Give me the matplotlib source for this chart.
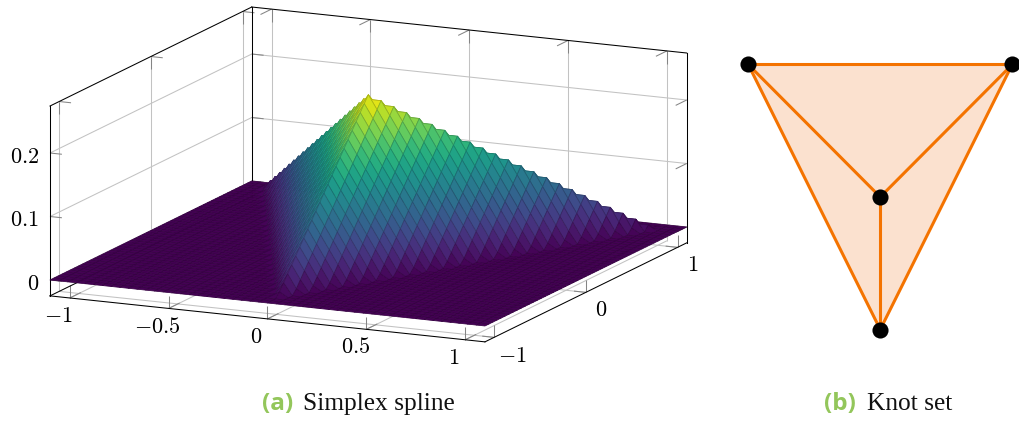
import numpy as np
import matplotlib
matplotlib.use("Agg")
import matplotlib.pyplot as plt
import matplotlib.tri as mtri
from mpl_toolkits.mplot3d import proj3d
from mpl_toolkits.mplot3d.art3d import Poly3DCollection

plt.rcParams['mathtext.fontset'] = 'cm'

# ---- data ----
knot_x = [-1.0, 1.0, 0.0, 0.0]
knot_y = [1.0, 1.0, -1.0, 0.0]
knot_z = [0.0, 0.0, 0.0, 0.25]      # spline height at each knot
knot_triangles = [[0, 3, 1], [0, 2, 3], [3, 2, 1]]
hull = [0, 1, 2, 0]
spokes = [[3, 0], [3, 1], [3, 2]]

x_lim = (-1.1, 1.1)
y_lim = (-1.1, 1.1)
z_lim = (-0.025, 0.274)
n_samples = 51

x_ticks = [-1, -0.5, 0, 0.5, 1]
x_labels = [r'$-1$', r'$-0.5$', r'$0$', r'$0.5$', r'$1$']
y_ticks = [-1, 0, 1]
y_labels = [r'$-1$', r'$0$', r'$1$']
z_ticks = [0, 0.1, 0.2]
z_labels = [r'$0$', r'$0.1$', r'$0.2$']

# ---- figure ----
W, H = 1020, 423
fig = plt.figure(figsize=(W / 100, H / 100), dpi=100)

# square 3D axes (mplot3d forces a square box) covering the figure width
ax = fig.add_axes([0, (H - W) / 2 / H, 1, W / H], projection='3d',
                  computed_zorder=False, proj_type='ortho')
ax.set_xticks([])
ax.set_yticks([])
ax.set_zticks([])
ax.set_axis_off()
ax.patch.set_visible(False)
ax.apply_aspect()

# pgfplots-like orthographic view: screen pixels per data unit
view_x = [197.7, 91.7, 0.0, 368.35]
view_y = [20.9, -45.0, -635.0, 253.5]
A = ax.transData.inverted().get_affine().get_matrix()
px = np.array(view_x)
py = np.array([-view_y[0], -view_y[1], -view_y[2], H - view_y[3]])
u = A[0, 0] * px + A[0, 1] * py
v = A[1, 0] * px + A[1, 1] * py
u[3] += A[0, 2]
v[3] += A[1, 2]
nv = np.cross(px[:3], py[:3])
nv = nv / np.linalg.norm(nv)
depth = nv if nv[1] > 0 else -nv      # +y is further from the viewer
M = np.array([u, v, [depth[0], depth[1], depth[2], -10.0], [0, 0, 0, 1.0]])
ax.get_proj = lambda: M

GRID = '#c2c2c2'
TICK = '#858585'
LW = 0.75


def seg(p, q, color='k', lw=LW, z=1):
    ax.plot([p[0], q[0]], [p[1], q[1]], [p[2], q[2]], color=color, lw=lw, zorder=z,
            solid_capstyle='projecting' if color == 'k' else 'butt')


def label(x, y, z, s, ha):
    a, b, _ = proj3d.proj_transform(x, y, z, M)
    ax.text2D(a, b, s, transform=ax.transData, fontsize=16, ha=ha, va='center', zorder=4)


x0, x1 = x_lim
y0, y1 = y_lim
z0, z1 = z_lim
tx, ty, tz = 0.06, 0.12, 0.02

# grid lines on the back walls and floor
for xt in x_ticks:
    seg((xt, y1, z0), (xt, y1, z1), GRID)
    seg((xt, y0, z0), (xt, y1, z0), GRID)
for yt in y_ticks:
    seg((x0, yt, z0), (x0, yt, z1), GRID)
    seg((x0, yt, z0), (x1, yt, z0), GRID)
for zt in z_ticks:
    seg((x0, y0, zt), (x0, y1, zt), GRID)
    seg((x0, y1, zt), (x1, y1, zt), GRID)

# tick marks
for xt in x_ticks:
    seg((xt, y1, z1), (xt, y1, z1 - tz), TICK)
    seg((xt, y1, z1), (xt, y1 - ty, z1), TICK)
    seg((xt, y0, z0), (xt, y0, z0 + tz), TICK)
    seg((xt, y0, z0), (xt, y0 + ty, z0), TICK)
for yt in y_ticks:
    seg((x0, yt, z1), (x0, yt, z1 - tz), TICK)
    seg((x0, yt, z1), (x0 + tx, yt, z1), TICK)
    seg((x1, yt, z0), (x1, yt, z0 + tz), TICK)
    seg((x1, yt, z0), (x1 - tx, yt, z0), TICK)
for zt in z_ticks:
    seg((x0, y0, zt), (x0 + tx, y0, zt), TICK)
    seg((x0, y1, zt), (x0 + tx, y1, zt), TICK)
    seg((x1, y1, zt), (x1, y1 - ty, zt), TICK)

# back frame
seg((x0, y0, z1), (x0, y1, z1))
seg((x0, y1, z1), (x1, y1, z1))
seg((x0, y1, z0), (x0, y1, z1))
seg((x0, y0, z0), (x0, y1, z0))
seg((x0, y0, z0), (x0, y0, z1))
seg((x1, y1, z0), (x1, y1, z1))

# surface
tri = mtri.Triangulation(knot_x, knot_y, knot_triangles)
interp = mtri.LinearTriInterpolator(tri, knot_z)
gx = np.linspace(x0, x1, n_samples)
gy = np.linspace(y0, y1, n_samples)
X, Y = np.meshgrid(gx, gy)
Z = np.ma.filled(interp(X, Y), 0.0)
verts, vals = [], []
for j in range(n_samples - 1):
    for i in range(n_samples - 1):
        idx = [(j, i), (j, i + 1), (j + 1, i + 1), (j + 1, i)]
        verts.append([(X[k], Y[k], Z[k]) for k in idx])
        vals.append(np.mean([Z[k] for k in idx]))
cmap = plt.get_cmap('viridis')
fc = cmap(np.array(vals) / max(knot_z))
ec = fc.copy()
ec[:, :3] *= 0.8
surf = Poly3DCollection(verts, facecolors=fc, edgecolors=ec, linewidths=0.55, zsort='average', zorder=2)
ax.add_collection3d(surf)

# front frame
seg((x0, y0, z0), (x1, y0, z0), z=3)
seg((x1, y0, z0), (x1, y1, z0), z=3)

# tick labels
for xt, s in zip(x_ticks, x_labels):
    label(xt, y0 - 0.12, z0 - 0.02, s, 'center')
for yt, s, dx in zip(y_ticks, y_labels, [0.09, 0.076, 0.076]):
    label(x1 + dx, yt, z0 - 0.026, s, 'center')
for zt, s in zip(z_ticks, z_labels):
    label(x0 - 0.055, y0, zt - 0.008, s, 'right')

# right panel: the knot set
L, R, T, B = 720, 1020, 40, 350
cx, cy, sx, sy = 880.25, 197.0, 132.0, 132.5
ax2 = fig.add_axes([L / W, 1 - B / H, (R - L) / W, (B - T) / H])
ax2.set_xlim((L - cx) / sx, (R - cx) / sx)
ax2.set_ylim((cy - B) / sy, (cy - T) / sy)
ax2.set_axis_off()
ORANGE = '#f47300'
hx = [knot_x[i] for i in hull]
hy = [knot_y[i] for i in hull]
ax2.fill(hx, hy, color='#fbe1cf', lw=0, zorder=1)
ax2.plot(hx, hy, color=ORANGE, lw=2.2, zorder=2, solid_joinstyle='round')
for a, b in spokes:
    ax2.plot([knot_x[a], knot_x[b]], [knot_y[a], knot_y[b]], color=ORANGE, lw=2.2, zorder=2)
ax2.plot(knot_x, knot_y, 'o', color='k', ms=11.6, mew=0, zorder=3, clip_on=False)

# captions
GREEN = '#93c65b'
cap_y = 1 - 404 / H
fig.text(262 / W, cap_y, '(a)', family='Open Sans', weight='bold', color=GREEN, fontsize=17.5, va='center', ha='left')
fig.text(303 / W, cap_y, 'Simplex spline', family='Liberation Serif', color='#111111', fontsize=18.3, va='center', ha='left')
fig.text(824 / W, cap_y, '(b)', family='Open Sans', weight='bold', color=GREEN, fontsize=17.5, va='center', ha='left')
fig.text(867 / W, cap_y, 'Knot set', family='Liberation Serif', color='#111111', fontsize=18.3, va='center', ha='left')

fig.savefig('out.png', dpi=100)
